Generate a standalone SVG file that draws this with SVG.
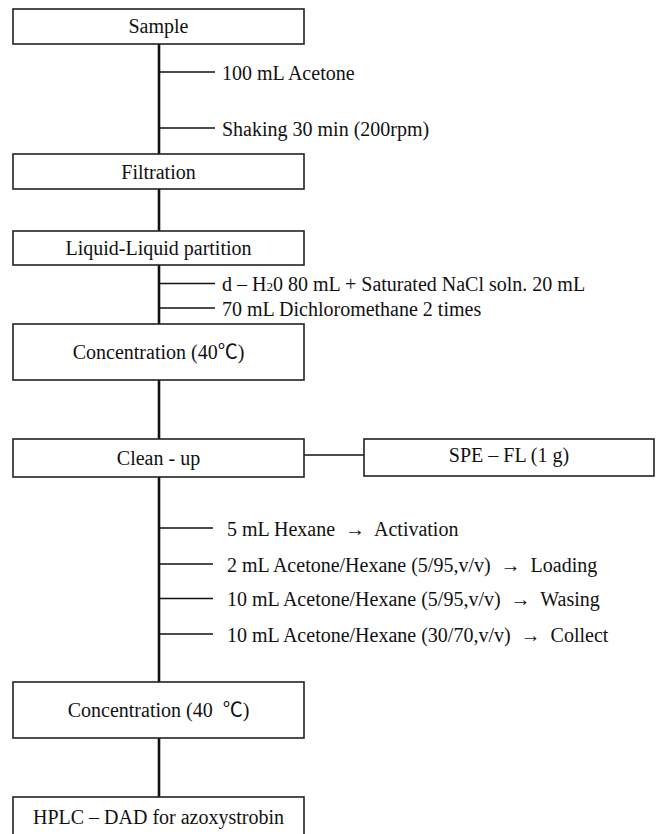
<svg xmlns="http://www.w3.org/2000/svg" width="660" height="834" viewBox="0 0 660 834" xml:space="preserve">
<style>
.box{fill:#fff;stroke:#222;stroke-width:1.6}
.trunk{stroke:#111;stroke-width:2.6;fill:none}
.br{stroke:#111;stroke-width:1.5;fill:none}
text{font-family:"Liberation Serif","Noto Sans CJK KR",serif;font-size:20px;fill:#111;white-space:pre}
.c{text-anchor:middle}
</style>
<rect width="660" height="834" fill="#fff"/>
<g id="connectors">
<line class="trunk" x1="159" y1="44" x2="159" y2="154"/>
<line class="trunk" x1="159" y1="189" x2="159" y2="231"/>
<line class="trunk" x1="159" y1="265" x2="159" y2="324"/>
<line class="trunk" x1="159" y1="380" x2="159" y2="439"/>
<line class="trunk" x1="159" y1="477" x2="159" y2="682"/>
<line class="trunk" x1="159" y1="738" x2="159" y2="797"/>
<line class="br" x1="159" y1="72" x2="215" y2="72"/>
<line class="br" x1="159" y1="128" x2="215" y2="128"/>
<line class="br" x1="159" y1="283.5" x2="215" y2="283.5"/>
<line class="br" x1="159" y1="308" x2="215" y2="308"/>
<line class="br" x1="304" y1="455" x2="364" y2="455"/>
<line class="br" x1="159" y1="528" x2="213" y2="528"/>
<line class="br" x1="159" y1="564" x2="213" y2="564"/>
<line class="br" x1="159" y1="598.5" x2="213" y2="598.5"/>
<line class="br" x1="159" y1="634" x2="213" y2="634"/>
</g>
<g id="sample"><rect class="box" x="13" y="9" width="291" height="35"/><text class="c" x="158.5" y="33">Sample</text></g>
<g id="step-acetone"><text x="222" y="80">100 mL Acetone</text></g>
<g id="step-shaking"><text x="222" y="136">Shaking 30 min (200rpm)</text></g>
<g id="filtration"><rect class="box" x="13" y="154" width="291" height="35"/><text class="c" x="158.5" y="178.5">Filtration</text></g>
<g id="llp"><rect class="box" x="13" y="231" width="291" height="34"/><text class="c" x="158.5" y="255">Liquid-Liquid partition</text></g>
<g id="step-water"><text x="222" y="291">d – H<tspan font-size="13">2</tspan>0 80 mL + Saturated NaCl soln. 20 mL</text></g>
<g id="step-dcm"><text x="222" y="315.5">70 mL Dichloromethane 2 times</text></g>
<g id="conc1"><rect class="box" x="13" y="324" width="291" height="56"/><text class="c" x="158.5" y="359">Concentration (40℃)</text></g>
<g id="cleanup"><rect class="box" x="13" y="439" width="291" height="38"/><text class="c" x="158.5" y="465">Clean - up</text></g>
<g id="spe"><rect class="box" x="364" y="439" width="290" height="37"/><text class="c" x="509" y="462">SPE – FL (1 g)</text></g>
<g id="step-activation"><text x="227" y="535.5">5 mL Hexane  →  Activation</text></g>
<g id="step-loading"><text x="227" y="571.5">2 mL Acetone/Hexane (5/95,v/v)  →  Loading</text></g>
<g id="step-washing"><text x="227" y="606">10 mL Acetone/Hexane (5/95,v/v)  →  Wasing</text></g>
<g id="step-collect"><text x="227" y="641.5">10 mL Acetone/Hexane (30/70,v/v)  →  Collect</text></g>
<g id="conc2"><rect class="box" x="13" y="682" width="291" height="56"/><text class="c" x="158.5" y="716.5">Concentration (40  ℃)</text></g>
<g id="hplc"><rect class="box" x="13" y="797" width="291" height="45"/><text class="c" x="158.5" y="823.5">HPLC – DAD for azoxystrobin</text></g>
</svg>
